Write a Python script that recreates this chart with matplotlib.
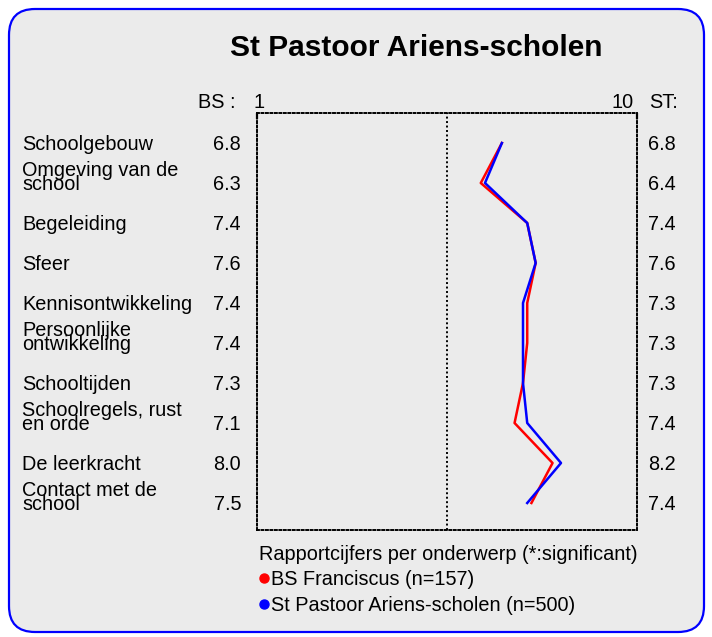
import numpy as np
import matplotlib
matplotlib.use("Agg")
import matplotlib.pyplot as plt
from matplotlib.patches import FancyBboxPatch

plt.rcParams['font.family'] = ['Liberation Sans', 'DejaVu Sans']

title = "St Pastoor Ariens-scholen"
onderwerpen = ["Schoolgebouw", "Omgeving van de\nschool", "Begeleiding", "Sfeer",
               "Kennisontwikkeling", "Persoonlijke\nontwikkeling", "Schooltijden",
               "Schoolregels, rust\nen orde", "De leerkracht", "Contact met de\nschool"]
bs_scores = [6.8, 6.3, 7.4, 7.6, 7.4, 7.4, 7.3, 7.1, 8.0, 7.5]
st_scores = [6.8, 6.4, 7.4, 7.6, 7.3, 7.3, 7.3, 7.4, 8.2, 7.4]
legend_title = "Rapportcijfers per onderwerp (*:significant)"
series_names = ["BS Franciscus (n=157)", "St Pastoor Ariens-scholen (n=500)"]
series_colors = ["#ff0000", "#0000ff"]

FS = 14.3
W, H = 712, 637
fig = plt.figure(figsize=(W / 100, H / 100), dpi=100)

# achtergrond
bg = fig.add_axes([0, 0, 1, 1])
bg.set_xlim(0, W)
bg.set_ylim(H, 0)
bg.axis('off')
bg.add_patch(FancyBboxPatch((9, 9), 695, 623, boxstyle="round,pad=0,rounding_size=26",
                            fc="#ebebeb", ec="#0000ff", lw=1.6))
bg.text(416, 48, title, ha='center', va='center', fontsize=21.5, fontweight='bold')

# grafiekvlak
x0, x1, y0, y1 = 257, 637, 113, 530
ax = fig.add_axes([x0 / W, 1 - y1 / H, (x1 - x0) / W, (y1 - y0) / H])
ax.set_facecolor('none')
ax.set_xlim(1, 10)
ax.set_ylim(9.675, -0.75)
dots = (0, (1, 1.3))
for s in ax.spines.values():
    s.set_linestyle(dots)
    s.set_linewidth(1.4)
ax.axvline(5.5, color='black', lw=1.4, ls=dots)
ax.xaxis.tick_top()
ax.set_xticks([1, 10])
ax.set_xticklabels([])
ax.tick_params(axis='x', direction='in', length=4, width=1.6)
ax.set_yticks([])

rows = np.arange(len(onderwerpen))
ax.plot(bs_scores, rows, color=series_colors[0], lw=1.8)
ax.plot(st_scores, rows, color=series_colors[1], lw=1.8)

tr = ax.get_yaxis_transform()
base = 0.18   # baseline offset (rijen)
for i, lab in enumerate(onderwerpen):
    parts = lab.split("\n")
    for j, p in enumerate(parts):
        yy = i + base - (len(parts) - 1 - j) * 0.36
        ax.text(-0.618, yy, p, transform=tr, ha='left', va='baseline', fontsize=FS)
    ax.text(-0.042, i + base, f"{bs_scores[i]:.1f}", transform=tr, ha='right', va='baseline', fontsize=FS)
    ax.text(1.029, i + base, f"{st_scores[i]:.1f}", transform=tr, ha='left', va='baseline', fontsize=FS)

bg.text(236, 108, "BS :", ha='right', va='baseline', fontsize=FS)
bg.text(259, 108, "1", ha='center', va='baseline', fontsize=FS)
bg.text(634, 108, "10", ha='right', va='baseline', fontsize=FS)
bg.text(649, 108, "ST:", ha='left', va='baseline', fontsize=FS)

# legenda
bg.text(259, 560, legend_title, ha='left', va='baseline', fontsize=FS)
for k, (name, col) in enumerate(zip(series_names, series_colors)):
    yy = 578 + k * 26
    bg.plot([264], [yy], 'o', color=col, ms=6.5)
    bg.text(271, yy + 7, name, ha='left', va='baseline', fontsize=FS)

fig.savefig("out.png", dpi=100)
